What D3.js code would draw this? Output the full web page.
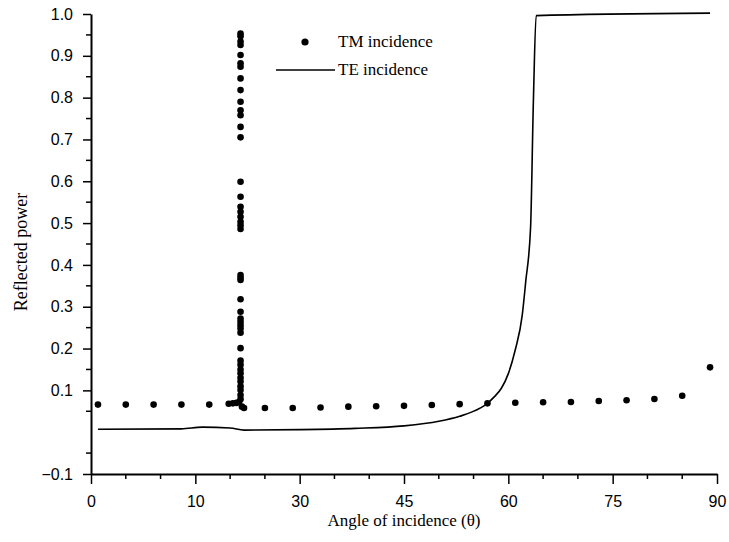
<!DOCTYPE html>
<html>
<head>
<meta charset="utf-8">
<script src="https://cdn.jsdelivr.net/npm/d3@7"></script>
<style>
    body { margin: 0; background: #fff; }
    text { fill: #000; }
    .tick-label { font-family: "Liberation Sans", Arial, sans-serif; font-size: 16px; }
    .title { font-family: "Liberation Serif", "Times New Roman", serif; font-size: 17px; }
</style>
</head>
<body>
<svg id="chart" width="729" height="542"></svg>
<script>
"use strict";

/* TM incidence: regular samples every 4 degrees, plus the fine scan round the resonance */
var tmAngles = [1, 5, 9, 13, 17,
		19.8, 20.4, 20.9, 21.3,
		21.5, 21.5, 21.5, 21.5, 21.5, 21.5, 21.5, 21.5, 21.5, 21.5,
		21.5, 21.5, 21.5, 21.5, 21.5, 21.5, 21.5, 21.5, 21.5, 21.5,
		21.5, 21.5, 21.5, 21.5, 21.5, 21.5, 21.5, 21.5, 21.5, 21.5,
		21.5, 21.5, 21.5, 21.5, 21.5, 21.5, 21.5, 21.5, 21.5, 21.5,
		21.5, 21.5, 21.5,
		21.7, 22,
		25, 29, 33, 37, 41, 45, 49, 53, 57, 61, 65, 69, 73, 77, 81, 85, 89],
    tmPower = [0.066, 0.066, 0.066, 0.066, 0.066,
	       0.068, 0.069, 0.070, 0.072,
	       0.079, 0.089, 0.101, 0.110, 0.121, 0.130, 0.141, 0.150, 0.161, 0.171,
	       0.201, 0.238, 0.248, 0.256, 0.264, 0.272, 0.288, 0.318, 0.364, 0.369,
	       0.376, 0.486, 0.495, 0.503, 0.515, 0.527, 0.539, 0.563, 0.599, 0.705,
	       0.730, 0.758, 0.770, 0.790, 0.818, 0.846, 0.874, 0.882, 0.902, 0.926,
	       0.934, 0.947, 0.953,
	       0.061, 0.058,
	       0.058, 0.058, 0.059, 0.061, 0.062, 0.063, 0.065, 0.067, 0.069, 0.0705,
	       0.0715, 0.072, 0.0746, 0.0762, 0.0793, 0.0872, 0.155],

    teAngles = [1, 13, 16, 20, 22, 30, 38, 45, 50, 53, 56, 57, 58, 59, 60, 61, 62,
		62.5, 63.2, 63.6, 64, 89],
    tePower = [0.007, 0.008, 0.012, 0.010, 0.005, 0.006, 0.009, 0.015, 0.026, 0.038,
	       0.058, 0.069, 0.085, 0.105, 0.140, 0.197, 0.280, 0.360, 0.490, 0.790,
	       0.996, 1.002],

    xTickValues = [0, 15, 30, 45, 60, 75, 90],
    xTickLabels = ["0", "10", "30", "45", "60", "75", "90"],
    yTickValues = [-0.1, 0.1, 0.2, 0.3, 0.4, 0.5, 0.6, 0.7, 0.8, 0.9, 1.0],

    seriesNames = ["TM incidence", "TE incidence"],

    margin = {top: 14, left: 91},
    width = 626,
    height = 460,
    dotRadius = 3.3;

var svg = d3.select("#chart"),
    plot = svg.append("g")
	.attr("transform", "translate(" + margin.left + "," + margin.top + ")");

var x = d3.scaleLinear().domain([0, 90]).range([0, width]),
    y = d3.scaleLinear().domain([-0.1, 1.0]).range([height, 0]);

// minor ticks every 5 degrees / 0.05, the zero line of y has none
var xMinor = d3.range(0, 91, 5).filter(function(d) {
	return xTickValues.indexOf(d) < 0;
    }),
    yMinor = d3.range(-0.05, 1.0, 0.1).map(function(d) {
	return Math.round(d * 100) / 100;
    });

var xAxis = plot.append("g")
	.attr("transform", "translate(0," + height + ")");

xAxis.selectAll("line.minor")
    .data(xMinor)
    .enter().append("line")
    .classed("minor", true)
    .attr("x1", x).attr("x2", x)
    .attr("y1", 0).attr("y2", 5)
    .attr("stroke", "#000").attr("stroke-width", 1.5);

xAxis.call(d3.axisBottom(x)
	   .tickValues(xTickValues)
	   .tickFormat(function(d, i) { return xTickLabels[i]; })
	   .tickSize(10)
	   .tickPadding(12)
	   .tickSizeOuter(0));

xAxis.selectAll(".tick line").attr("stroke-width", 1.5);
xAxis.selectAll(".tick text").attr("class", "tick-label").attr("font-family", null).attr("font-size", null);
xAxis.select(".domain").attr("stroke-width", 2);

var yAxis = plot.append("g");

yAxis.selectAll("line.minor")
    .data(yMinor)
    .enter().append("line")
    .classed("minor", true)
    .attr("x1", -5).attr("x2", 0)
    .attr("y1", y).attr("y2", y)
    .attr("stroke", "#000").attr("stroke-width", 1.5);

yAxis.call(d3.axisLeft(y)
	   .tickValues(yTickValues)
	   .tickFormat(d3.format(".1f"))
	   .tickSize(8)
	   .tickPadding(10)
	   .tickSizeOuter(0));

yAxis.selectAll(".tick line").attr("stroke-width", 1.5);
yAxis.selectAll(".tick text").attr("class", "tick-label").attr("font-family", null).attr("font-size", null);
yAxis.select(".domain").attr("stroke-width", 2);

// TE curve
var teData = teAngles.map(function(a, i) { return [a, tePower[i]]; });

plot.append("path")
    .datum(teData)
    .attr("fill", "none")
    .attr("stroke", "#000")
    .attr("stroke-width", 1.6)
    .attr("d", d3.line()
	  .x(function(d) { return x(d[0]); })
	  .y(function(d) { return y(d[1]); })
	  .curve(d3.curveMonotoneX));

// TM dots
plot.selectAll("circle.tm")
    .data(tmAngles.map(function(a, i) { return [a, tmPower[i]]; }))
    .enter().append("circle")
    .classed("tm", true)
    .attr("cx", function(d) { return x(d[0]); })
    .attr("cy", function(d) { return y(d[1]); })
    .attr("r", dotRadius)
    .attr("fill", "#000");

// legend
var legend = svg.append("g").attr("transform", "translate(276,42)");

legend.append("circle")
    .attr("cx", 29).attr("cy", 0).attr("r", 3.6)
    .attr("fill", "#000");
legend.append("line")
    .attr("x1", 0).attr("x2", 59)
    .attr("y1", 28).attr("y2", 28)
    .attr("stroke", "#000").attr("stroke-width", 1.6);

legend.selectAll("text")
    .data(seriesNames)
    .enter().append("text")
    .attr("class", "title")
    .attr("x", 62)
    .attr("y", function(d, i) { return i * 28 + 5; })
    .text(function(d) { return d; });

// axis titles
svg.append("text")
    .attr("class", "title")
    .attr("text-anchor", "middle")
    .attr("x", margin.left + width / 2)
    .attr("y", 526)
    .text("Angle of incidence (\u03b8)");

svg.append("text")
    .attr("class", "title")
    .attr("text-anchor", "middle")
    .style("font-size", "18px")
    .attr("transform", "translate(27,252) rotate(-90)")
    .text("Reflected power");
</script>
</body>
</html>
